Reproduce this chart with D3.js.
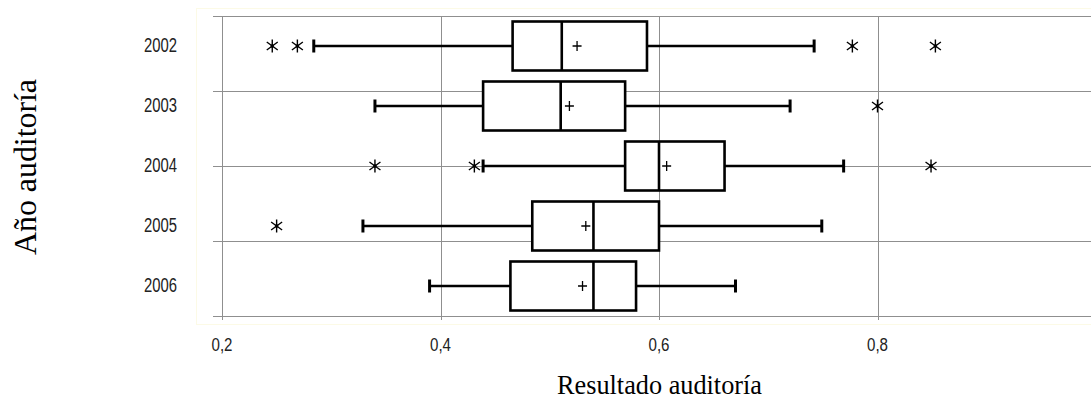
<!DOCTYPE html>
<html>
<head>
<meta charset="utf-8">
<script src="https://cdn.jsdelivr.net/npm/d3@7"></script>
<style>
  html, body { margin: 0; padding: 0; background: #fff; }
  svg { display: block; }
</style>
</head>
<body>
<svg id="chart" width="1091" height="399"></svg>
<script>
// Audit results per year: five-number summary, mean and outliers
const years        = ["2002", "2003", "2004", "2005", "2006"];
const whiskerLow   = [0.284, 0.340, 0.439, 0.329, 0.390];
const q1           = [0.466, 0.439, 0.569, 0.484, 0.464];
const median       = [0.511, 0.510, 0.600, 0.540, 0.540];
const q3           = [0.589, 0.569, 0.660, 0.600, 0.579];
const whiskerHigh  = [0.742, 0.720, 0.769, 0.749, 0.670];
const mean         = [0.525, 0.518, 0.607, 0.533, 0.530];
const outliers     = [
  [0.246, 0.269, 0.777, 0.853],
  [0.800],
  [0.340, 0.431, 0.849],
  [0.250],
  []
];
const xTicks       = [0.2, 0.4, 0.6, 0.8];
const xTickLabels  = ["0,2", "0,4", "0,6", "0,8"];
const yGridLevels  = [0, 1, 2, 3, 4];

const svg = d3.select("#chart");

const plot = { left: 222, top: 16, bottom: 316 };

const x = d3.scaleLinear().domain([0.2, 1.0]).range([plot.left, 1096]);
const y = d3.scaleBand().domain(years).range([plot.top, plot.bottom]).padding(0);
const yGrid = d3.scaleLinear().domain([0, 4]).range([plot.top, plot.bottom]);

const crisp = v => Math.round(v) + 0.5;

// faint frame around the plotting area
svg.append("rect")
  .attr("x", 196.5).attr("y", 8.5)
  .attr("width", 1091 - 196).attr("height", 324 - 8)
  .attr("fill", "none").attr("stroke", "#fcfae6").attr("stroke-width", 1);

// vertical gridlines (with short ticks below the axis)
svg.append("g").selectAll("line")
  .data(xTicks)
  .join("line")
  .attr("x1", d => crisp(x(d))).attr("x2", d => crisp(x(d)))
  .attr("y1", plot.top).attr("y2", plot.bottom + 4)
  .attr("stroke", "#8f8f8f").attr("stroke-width", 1);

// horizontal gridlines (with short ticks left of the axis)
svg.append("g").selectAll("line")
  .data(yGridLevels)
  .join("line")
  .attr("x1", plot.left - 9).attr("x2", 1091)
  .attr("y1", d => crisp(yGrid(d))).attr("y2", d => crisp(yGrid(d)))
  .attr("stroke", "#8f8f8f").attr("stroke-width", 1);

// x tick labels
svg.append("g").selectAll("text")
  .data(xTicks)
  .join("text")
  .attr("x", d => x(d))
  .attr("y", 351)
  .attr("text-anchor", "middle")
  .attr("font-family", "'Liberation Sans Narrow', 'Liberation Sans', Arial, sans-serif")
  .attr("font-size", 18)
  .attr("fill", "#222")
  .attr("textLength", 21)
  .attr("lengthAdjust", "spacingAndGlyphs")
  .text((d, i) => xTickLabels[i]);

// y tick labels
svg.append("g").selectAll("text")
  .data(years)
  .join("text")
  .attr("x", 177)
  .attr("y", d => y(d) + y.bandwidth() / 2 + 6)
  .attr("text-anchor", "end")
  .attr("font-family", "'Liberation Sans Narrow', 'Liberation Sans', Arial, sans-serif")
  .attr("font-size", 20)
  .attr("fill", "#222")
  .attr("textLength", 33)
  .attr("lengthAdjust", "spacingAndGlyphs")
  .text(d => d);

// axis titles
svg.append("text")
  .attr("x", 659.5).attr("y", 394)
  .attr("text-anchor", "middle")
  .attr("font-family", "'Liberation Serif', 'Times New Roman', serif")
  .attr("font-size", 27)
  .attr("fill", "#000")
  .attr("textLength", 205)
  .attr("lengthAdjust", "spacingAndGlyphs")
  .text("Resultado auditoría");

svg.append("text")
  .attr("transform", "translate(36,167) rotate(-90)")
  .attr("text-anchor", "middle")
  .attr("font-family", "'Liberation Serif', 'Times New Roman', serif")
  .attr("font-size", 31)
  .attr("fill", "#000")
  .attr("textLength", 176)
  .attr("lengthAdjust", "spacingAndGlyphs")
  .text("Año auditoría");

// box plots
const boxH = 49;
const capH = 13;
const rows = years.map((yr, i) => ({
  yr, lo: whiskerLow[i], q1: q1[i], med: median[i], q3: q3[i],
  hi: whiskerHigh[i], mean: mean[i], out: outliers[i]
}));

const g = svg.append("g").selectAll("g")
  .data(rows)
  .join("g")
  .attr("transform", d => `translate(0,${y(d.yr) + y.bandwidth() / 2})`);

const ink = "#000";
const lw = 2.6;

// whiskers
g.append("line")
  .attr("x1", d => x(d.lo)).attr("x2", d => x(d.q1))
  .attr("y1", 0).attr("y2", 0)
  .attr("stroke", ink).attr("stroke-width", lw);
g.append("line")
  .attr("x1", d => x(d.q3)).attr("x2", d => x(d.hi))
  .attr("y1", 0).attr("y2", 0)
  .attr("stroke", ink).attr("stroke-width", lw);
// whisker caps
g.append("line")
  .attr("x1", d => x(d.lo)).attr("x2", d => x(d.lo))
  .attr("y1", -capH / 2).attr("y2", capH / 2)
  .attr("stroke", ink).attr("stroke-width", 3);
g.append("line")
  .attr("x1", d => x(d.hi)).attr("x2", d => x(d.hi))
  .attr("y1", -capH / 2).attr("y2", capH / 2)
  .attr("stroke", ink).attr("stroke-width", 3);

// box
g.append("rect")
  .attr("x", d => x(d.q1))
  .attr("y", -boxH / 2)
  .attr("width", d => x(d.q3) - x(d.q1))
  .attr("height", boxH)
  .attr("fill", "#fff")
  .attr("stroke", ink).attr("stroke-width", lw);

// median
g.append("line")
  .attr("x1", d => x(d.med)).attr("x2", d => x(d.med))
  .attr("y1", -boxH / 2).attr("y2", boxH / 2)
  .attr("stroke", ink).attr("stroke-width", lw);

// mean marker (+)
g.append("path")
  .attr("d", d => {
    const cx = x(d.mean);
    return `M${cx - 4.5},0H${cx + 4.5}M${cx},-5V5`;
  })
  .attr("stroke", ink).attr("stroke-width", 1.3).attr("fill", "none");

// outliers (asterisks)
const star = d3.path();
star.moveTo(0, -6.5); star.lineTo(0, 6.5);
star.moveTo(-5.5, -4); star.lineTo(5.5, 4);
star.moveTo(-5.5, 4); star.lineTo(5.5, -4);

g.each(function (d) {
  const sel = d3.select(this).selectAll("g.out")
    .data(d.out)
    .join("g")
    .attr("class", "out")
    .attr("transform", v => `translate(${x(v)},0)`);
  sel.append("path")
    .attr("d", star.toString())
    .attr("stroke", ink).attr("stroke-width", 1.4).attr("fill", "none");
  sel.append("circle").attr("r", 1.8).attr("fill", ink);
});
</script>
</body>
</html>
